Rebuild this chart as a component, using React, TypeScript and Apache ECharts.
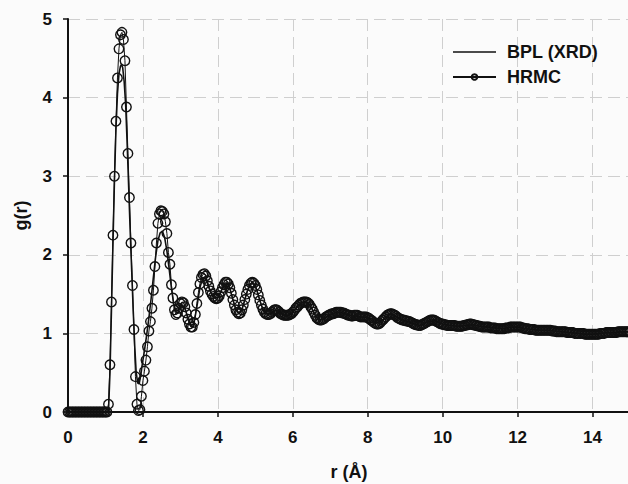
import { useEffect, useRef } from "react";
import * as echarts from "echarts";

// HRMC g(r), sampled every 0.04 Å from r = 0 (one row per 1 Å)
const hrmcStart = 0;
const hrmcStep = 0.04;
const hrmcG = [
  0, 0, 0, 0, 0, 0, 0, 0, 0, 0, 0, 0, 0, 0, 0, 0, 0, 0, 0, 0, 0, 0, 0, 0, 0,
  0, 0, 0.1, 0.6, 1.4, 2.25, 3.0, 3.7, 4.25, 4.62, 4.8, 4.83, 4.74, 4.47, 3.88, 3.29, 2.73, 2.15, 1.61, 1.05, 0.45, 0.1, 0.02, 0.03, 0.2,
  0.4, 0.52, 0.66, 0.83, 1.03, 1.15, 1.32, 1.55, 1.85, 2.15, 2.4, 2.52, 2.56, 2.55, 2.52, 2.42, 2.27, 2.03, 1.88, 1.62, 1.45, 1.3, 1.24, 1.26, 1.32,
  1.38, 1.4, 1.39, 1.34, 1.26, 1.18, 1.12, 1.08, 1.08, 1.14, 1.24, 1.38, 1.52, 1.63, 1.71, 1.75, 1.76, 1.73, 1.67, 1.6, 1.54, 1.5, 1.47, 1.45, 1.44,
  1.45, 1.48, 1.53, 1.58, 1.62, 1.65, 1.65, 1.63, 1.58, 1.51, 1.43, 1.36, 1.3, 1.27, 1.25, 1.26, 1.3, 1.36, 1.43, 1.5, 1.56, 1.61, 1.64, 1.65, 1.64,
  1.61, 1.56, 1.49, 1.42, 1.36, 1.31, 1.27, 1.25, 1.24, 1.24, 1.25, 1.27, 1.29, 1.3, 1.3, 1.29, 1.27, 1.25, 1.24, 1.23, 1.23, 1.23, 1.23, 1.24, 1.25,
  1.27, 1.29, 1.32, 1.34, 1.36, 1.38, 1.39, 1.4, 1.4, 1.4, 1.39, 1.37, 1.34, 1.31, 1.27, 1.23, 1.2, 1.18, 1.17, 1.17, 1.18, 1.19, 1.21, 1.22, 1.23,
  1.24, 1.25, 1.25, 1.26, 1.27, 1.27, 1.27, 1.27, 1.26, 1.26, 1.25, 1.24, 1.23, 1.23, 1.22, 1.22, 1.23, 1.23, 1.23, 1.22, 1.21, 1.21, 1.21, 1.21, 1.21,
  1.2, 1.19, 1.17, 1.16, 1.14, 1.13, 1.12, 1.12, 1.13, 1.15, 1.17, 1.19, 1.21, 1.23, 1.24, 1.25, 1.25, 1.24, 1.23, 1.22, 1.2, 1.19, 1.18, 1.17, 1.17,
  1.16, 1.16, 1.15, 1.15, 1.14, 1.13, 1.12, 1.11, 1.11, 1.1, 1.1, 1.11, 1.12, 1.13, 1.14, 1.15, 1.16, 1.17, 1.17, 1.17, 1.16, 1.15, 1.14, 1.13, 1.12,
  1.12, 1.11, 1.11, 1.1, 1.1, 1.1, 1.1, 1.1, 1.1, 1.09, 1.09, 1.09, 1.09, 1.09, 1.1, 1.1, 1.11, 1.11, 1.12, 1.12, 1.11, 1.11, 1.1, 1.1, 1.09,
  1.09, 1.08, 1.08, 1.08, 1.08, 1.08, 1.08, 1.07, 1.07, 1.07, 1.07, 1.06, 1.06, 1.06, 1.06, 1.06, 1.06, 1.07, 1.07, 1.07, 1.08, 1.08, 1.08, 1.08, 1.08,
  1.08, 1.08, 1.08, 1.07, 1.07, 1.06, 1.06, 1.06, 1.05, 1.05, 1.05, 1.05, 1.04, 1.04, 1.04, 1.04, 1.04, 1.04, 1.04, 1.04, 1.04, 1.04, 1.04, 1.03, 1.03,
  1.03, 1.02, 1.02, 1.02, 1.02, 1.02, 1.02, 1.02, 1.01, 1.01, 1.01, 1.01, 1.01, 1.0, 1.0, 1.0, 1.0, 1.0, 1.0, 1.0, 0.99, 0.99, 0.99, 0.99, 0.99,
  0.99, 0.99, 0.99, 0.99, 0.99, 1.0, 1.0, 1.0, 1.0, 1.01, 1.01, 1.01, 1.01, 1.01, 1.01, 1.01, 1.01, 1.02, 1.02, 1.02, 1.02, 1.02, 1.02, 1.02, 1.02,
  1.02,
];

// BPL (XRD) g(r)
const bplR = [
  0, 1.08, 1.12, 1.16, 1.2, 1.24, 1.28, 1.32, 1.36, 1.4, 1.43, 1.46, 1.5, 1.54, 1.58, 1.62, 1.66, 1.7, 1.74, 1.78,
  1.82, 1.86, 1.9, 1.94, 1.98, 2.04, 2.1, 2.16, 2.22, 2.28, 2.34, 2.4, 2.46, 2.52, 2.58, 2.64, 2.7, 2.76, 2.82, 2.88,
  2.96, 3.04, 3.12, 3.2, 3.28, 3.36, 3.44, 3.52, 3.6, 3.68, 3.76, 3.84, 3.92, 4.0, 4.08, 4.16, 4.24, 4.32, 4.4, 4.48,
  4.56, 4.64, 4.72, 4.8, 4.88, 4.96, 5.04, 5.12, 5.2, 5.3, 5.4, 5.5, 5.6, 5.7, 5.8, 5.9, 6.0, 6.1, 6.2, 6.3,
  6.4, 6.5, 6.6, 6.7, 6.8, 6.9, 7.0, 7.2, 7.4, 7.6, 7.8, 8.0, 8.2, 8.4, 8.6, 8.8, 9.0, 9.2, 9.4, 9.6,
  9.8, 10.0, 10.2, 10.4, 10.6, 10.8, 11.0, 11.2, 11.4, 11.6, 11.8, 12.0, 12.2, 12.4, 12.6, 12.8, 13.0, 13.2, 13.4, 13.6,
  13.8, 14.0, 14.2, 14.4, 14.6, 14.8, 15.0,
];
const bplG = [
  0, 0, 0.5, 1.3, 2.15, 2.95, 3.6, 4.05, 4.3, 4.4, 4.42, 4.38, 4.2, 3.9, 3.4, 2.85, 2.3, 1.8, 1.3, 0.85,
  0.5, 0.37, 0.36, 0.46, 0.6, 0.78, 0.98, 1.2, 1.45, 1.72, 1.98, 2.18, 2.28, 2.3, 2.22, 2.05, 1.82, 1.58, 1.38, 1.28,
  1.3, 1.36, 1.32, 1.2, 1.1, 1.12, 1.34, 1.58, 1.71, 1.7, 1.58, 1.49, 1.45, 1.46, 1.53, 1.61, 1.64, 1.57, 1.43, 1.31,
  1.26, 1.3, 1.43, 1.56, 1.63, 1.63, 1.55, 1.42, 1.31, 1.25, 1.25, 1.29, 1.29, 1.25, 1.23, 1.23, 1.27, 1.33, 1.38, 1.4,
  1.39, 1.32, 1.23, 1.17, 1.18, 1.21, 1.24, 1.27, 1.25, 1.22, 1.21, 1.2, 1.13, 1.17, 1.25, 1.2, 1.16, 1.13, 1.1, 1.15,
  1.16, 1.12, 1.1, 1.09, 1.1, 1.11, 1.09, 1.08, 1.07, 1.06, 1.08, 1.08, 1.06, 1.05, 1.04, 1.04, 1.03, 1.02, 1.01, 1.0,
  0.99, 0.99, 1.0, 1.01, 1.01, 1.02, 1.02,
];

const xTickValues = [0, 2, 4, 6, 8, 10, 12, 14];
const yTickValues = [0, 1, 2, 3, 4, 5];

const FONT = "'Liberation Sans', Arial, sans-serif";
const INK = "#111";

export default function App() {
  const ref = useRef<HTMLDivElement>(null);

  useEffect(() => {
    if (!ref.current) return;
    const chart = echarts.init(ref.current, undefined, { renderer: "svg" });

    const hrmcData = hrmcG.map((g, i) => [
      +(hrmcStart + i * hrmcStep).toFixed(2),
      g,
    ]);
    const bplData = bplR.map((r, i) => [r, bplG[i]]);

    const tickStyle = {
      fontFamily: FONT,
      fontWeight: "bold" as const,
      fontSize: 17,
      color: INK,
    };
    const nameStyle = { ...tickStyle, fontSize: 18 };

    chart.setOption({
      animation: false,
      backgroundColor: "#fbfbfb",
      grid: {
        left: 68,
        right: -2,
        top: 19,
        bottom: 72,
        containLabel: false,
        outerBoundsMode: "none",
      },
      legend: {
        orient: "vertical",
        left: 447,
        top: 38,
        itemWidth: 43,
        itemHeight: 7,
        itemGap: 7,
        symbolKeepAspect: true,
        data: [
          { name: "BPL (XRD)", icon: "path://M0,0 L40,0 L40,1.4 L0,1.4 Z" },
          { name: "HRMC" },
        ],
        textStyle: { ...nameStyle, padding: [0, 0, 0, 6] },
      },
      xAxis: [
        {
          type: "value",
          min: 0,
          max: 15,
          interval: 2,
          name: "r (Å)",
          nameLocation: "middle",
          nameGap: 51,
          nameTextStyle: nameStyle,
          axisLine: { show: true, onZero: false, lineStyle: { color: INK, width: 2 } },
          axisTick: {
            show: true,
            length: 5,
            lineStyle: { color: INK, width: 1.5 },
            customValues: xTickValues,
          },
          axisLabel: {
            ...tickStyle,
            margin: 17,
            customValues: xTickValues,
          },
          splitLine: {
            show: true,
            lineStyle: { color: "#cfcfcf", type: [12, 6], width: 1 },
          },
        },
        {
          type: "value",
          position: "top",
          min: 0,
          max: 15,
          axisLine: { show: true, lineStyle: { color: INK, width: 2 } },
          axisTick: { show: false },
          axisLabel: { show: false },
          splitLine: { show: false },
        },
      ],
      yAxis: {
        type: "value",
        min: 0,
        max: 5,
        interval: 1,
        name: "g(r)",
        nameLocation: "middle",
        nameGap: 38,
        nameTextStyle: nameStyle,
        axisLine: { show: true, onZero: false, lineStyle: { color: INK, width: 2 } },
        axisTick: { show: true, length: 5, lineStyle: { color: INK, width: 1.5 } },
        axisLabel: { ...tickStyle, margin: 16, customValues: yTickValues },
        splitLine: {
          show: true,
          lineStyle: { color: "#cfcfcf", type: [12, 6], width: 1 },
        },
      },
      series: [
        {
          name: "BPL (XRD)",
          type: "line",
          data: bplData,
          symbol: "none",
          lineStyle: { color: INK, width: 1.6 },
          itemStyle: { color: INK },
          z: 2,
        },
        {
          name: "HRMC",
          type: "line",
          data: hrmcData,
          symbol: "circle",
          symbolSize: 9.5,
          showSymbol: true,
          showAllSymbol: true,
          lineStyle: { color: INK, width: 1 },
          itemStyle: { color: "rgba(0,0,0,0)", borderColor: INK, borderWidth: 1.4 },
          z: 3,
        },
      ],
    });

    return () => chart.dispose();
  }, []);

  return (
    <div
      ref={ref}
      style={{ position: "fixed", left: 0, top: 0, width: 628, height: 484 }}
    />
  );
}
